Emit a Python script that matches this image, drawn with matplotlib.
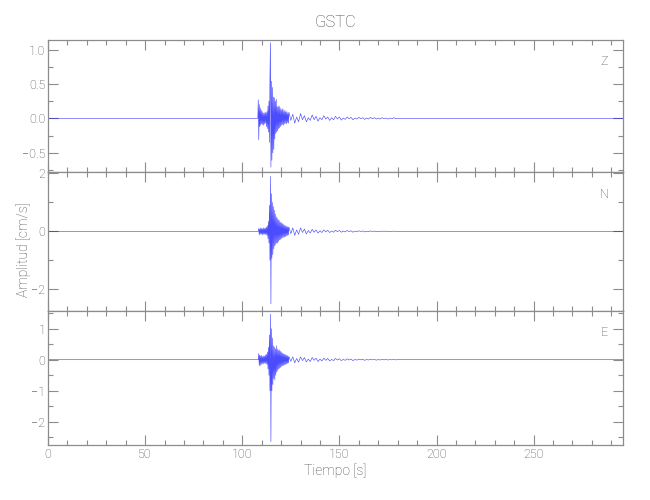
import matplotlib
matplotlib.use("Agg")
import matplotlib.pyplot as plt
import numpy as np
from matplotlib.ticker import MultipleLocator

# Estación y componentes
estacion = "GSTC"
componentes = ["Z", "N", "E"]

# Muestreo (s): rafaga cada 0.25 s desde 108 s, coda cada 1 s desde 124 s
t_inicio = 108.0
dt_rafaga = 0.25
t_coda = 124.0
dt_coda = 1.0
t_fin = 296.0

# Amplitudes (cm/s)
z_rafaga = [0.00, 0.27, -0.31, 0.20, -0.12, 0.15, -0.10, 0.12,
            -0.08, 0.10, -0.09, 0.08, -0.10, 0.07, -0.08, 0.09,
            -0.07, 0.08, -0.12, 0.10, -0.15, 0.18, -0.20, 0.25,
            -0.35, 0.55, 1.10, -0.71, 0.54, -0.61, 0.45, -0.50,
            0.31, -0.45, 0.30, -0.30, 0.25, -0.22, 0.28, -0.20,
            0.17, -0.18, 0.17, -0.15, 0.18, -0.14, 0.15, -0.12,
            0.12, -0.10, 0.14, -0.09, 0.13, -0.10, 0.10, -0.08,
            0.12, -0.07, 0.09, -0.08, 0.10, -0.06, 0.07, -0.07]
z_coda = [0.09, -0.03, 0.06, -0.07, 0.02, -0.05, 0.07, -0.02,
          0.04, -0.05, 0.01, -0.03, 0.05, -0.02, 0.03, -0.04,
          0.01, -0.02, 0.04, -0.01, 0.02, -0.03, 0.01, -0.02,
          0.03, -0.01, 0.02, -0.025, 0.005, -0.015, 0.02, -0.005,
          0.015, -0.02, 0.005, -0.01, 0.015, -0.005, 0.01, -0.015,
          0.005, -0.01, 0.015, -0.005, 0.01, -0.01, 0.005, -0.01,
          0.01, -0.005, 0.005, -0.01, 0.005, -0.005, 0.01, -0.005]

n_rafaga = [0.00, 0.00, 0.10, -0.12, 0.08, -0.10, 0.12, -0.08,
            0.10, -0.12, 0.09, -0.10, 0.12, -0.09, 0.10, -0.11,
            0.12, -0.10, 0.15, -0.14, 0.20, -0.25, 0.35, -0.40,
            0.90, -1.00, 1.90, -2.50, 1.30, -0.93, 1.00, -0.80,
            0.85, -0.60, 0.73, -0.50, 0.60, -0.45, 0.50, -0.40,
            0.45, -0.40, 0.40, -0.35, 0.38, -0.30, 0.32, -0.28,
            0.30, -0.25, 0.28, -0.22, 0.25, -0.20, 0.22, -0.20,
            0.20, -0.18, 0.18, -0.15, 0.17, -0.14, 0.15, -0.12]
n_coda = [0.15, -0.08, 0.12, -0.14, 0.05, -0.10, 0.12, -0.04,
          0.08, -0.09, 0.03, -0.06, 0.07, -0.03, 0.05, -0.06,
          0.02, -0.04, 0.05, -0.02, 0.04, -0.04, 0.01, -0.03,
          0.04, -0.01, 0.03, -0.03, 0.01, -0.02, 0.03, -0.01,
          0.02, -0.03, 0.01, -0.015, 0.02, -0.005, 0.015, -0.02,
          0.005, -0.01, 0.015, -0.005, 0.01, -0.015, 0.005, -0.01,
          0.01, -0.005, 0.01, -0.01, 0.005, -0.005, 0.01, -0.005]

e_rafaga = [0.00, 0.00, 0.20, -0.20, 0.15, -0.18, 0.12, -0.15,
            0.14, -0.12, 0.10, -0.14, 0.12, -0.10, 0.12, -0.12,
            0.15, -0.12, 0.18, -0.15, 0.25, -0.30, 0.40, -0.50,
            0.80, -1.00, 1.47, -2.64, 1.00, -1.00, 0.70, -0.80,
            0.45, -0.60, 0.40, -0.65, 0.35, -0.50, 0.45, -0.40,
            0.35, -0.35, 0.30, -0.30, 0.32, -0.28, 0.28, -0.25,
            0.25, -0.22, 0.22, -0.20, 0.20, -0.18, 0.18, -0.17,
            0.17, -0.15, 0.15, -0.14, 0.14, -0.12, 0.12, -0.10]
e_coda = [0.10, -0.05, 0.09, -0.10, 0.04, -0.08, 0.09, -0.03,
          0.07, -0.07, 0.02, -0.06, 0.07, -0.02, 0.05, -0.06,
          0.02, -0.04, 0.05, -0.02, 0.04, -0.04, 0.01, -0.03,
          0.04, -0.01, 0.03, -0.03, 0.01, -0.02, 0.03, -0.01,
          0.02, -0.03, 0.01, -0.015, 0.02, -0.005, 0.015, -0.02,
          0.005, -0.01, 0.015, -0.005, 0.01, -0.015, 0.005, -0.01,
          0.01, -0.005, 0.01, -0.01, 0.005, -0.005, 0.01, -0.005]

# Limites y ticks del eje y por componente
y_limites = [(-0.78, 1.14), (-2.75, 2.05), (-2.75, 1.57)]
y_mayor = [0.5, 2.0, 1.0]
y_menor = [0.25, 1.0, 0.5]
y_formato = ["{:.1f}", "{:.0f}", "{:.0f}"]

gris = "#8c8c8c"
gris_texto = "#4a4a4a"
plt.rcParams['font.family'] = ['Roboto', 'DejaVu Sans']
plt.rcParams['font.weight'] = 'light'


def armar_traza(rafaga, coda):
    t_r = t_inicio + dt_rafaga * np.arange(len(rafaga))
    t_c = t_coda + dt_coda * np.arange(len(coda))
    t = np.concatenate([[0.0], t_r, t_c, [t_c[-1] + dt_coda, t_fin]])
    a = np.concatenate([[0.0], rafaga, coda, [0.0, 0.0]])
    return t, a


trazas = [armar_traza(z_rafaga, z_coda),
          armar_traza(n_rafaga, n_coda),
          armar_traza(e_rafaga, e_coda)]

fig = plt.figure(figsize=(6.5, 5), dpi=100)
izq, der = 48 / 650, 623 / 650
bordes = [40, 172, 311, 445]  # pixeles desde arriba

for i, (t, a) in enumerate(trazas):
    arriba = 1 - bordes[i] / 500
    abajo = 1 - bordes[i + 1] / 500
    ax = fig.add_axes([izq, abajo, der - izq, arriba - abajo])
    ax.plot(t, a, color="#0000ff", lw=0.45, alpha=0.7)
    ax.set_xlim(0, t_fin)
    ax.set_ylim(*y_limites[i])
    ax.xaxis.set_major_locator(MultipleLocator(50))
    ax.xaxis.set_minor_locator(MultipleLocator(10))
    ax.yaxis.set_major_locator(MultipleLocator(y_mayor[i]))
    ax.yaxis.set_minor_locator(MultipleLocator(y_menor[i]))
    fmt = y_formato[i]
    ax.yaxis.set_major_formatter(plt.FuncFormatter(
        lambda v, p, fmt=fmt: fmt.format(v).replace("-", "\u2212")))
    ax.tick_params(which="both", direction="in", top=True, right=True,
                   color=gris, labelcolor=gris_texto, labelsize=9, width=0.8)
    ax.tick_params(which="major", length=7)
    ax.tick_params(which="minor", length=3.5)
    ax.tick_params(axis="y", pad=2)
    ax.tick_params(axis="x", pad=2)
    for s in ax.spines.values():
        s.set_color(gris)
        s.set_linewidth(0.9)
    if i < 2:
        ax.tick_params(labelbottom=False)
    ax.text(0.968, 0.84, componentes[i], transform=ax.transAxes,
            color=gris_texto, fontsize=9, ha="center", va="center")

fig.text((izq + der) / 2, 0.955, estacion, ha="center", va="center",
         color=gris_texto, fontsize=12)
fig.text((izq + der) / 2, 0.058, "Tiempo [s]", ha="center", va="center",
         color=gris_texto, fontsize=10)
fig.text(0.036, 0.50, "Amplitud [cm/s]", ha="center", va="center",
         rotation=90, color=gris_texto, fontsize=10)

fig.savefig("out.png", dpi=100)
